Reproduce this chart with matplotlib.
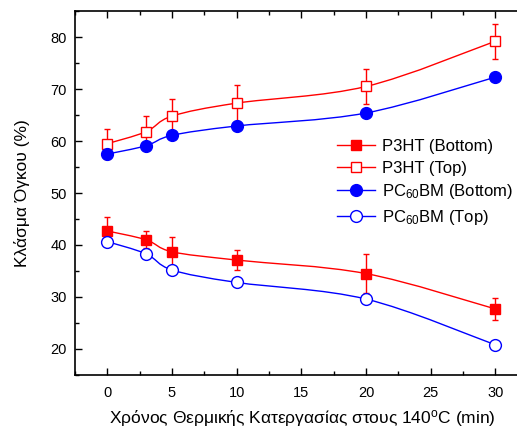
import numpy as np
import matplotlib.pyplot as plt
from matplotlib.path import Path
from matplotlib.patches import PathPatch

plt.rcParams['font.family'] = ['Liberation Sans', 'DejaVu Sans']
plt.rcParams['mathtext.fontset'] = 'custom'
plt.rcParams['mathtext.rm'] = 'Liberation Sans'
plt.rcParams['mathtext.it'] = 'Liberation Sans:italic'

# annealing time (min)
t = [0, 3, 5, 10, 20, 30]

p3ht_bottom = [42.7, 41.0, 38.7, 37.1, 34.5, 27.7]
p3ht_bottom_err = [2.6, 1.6, 2.9, 2.0, 3.8, 2.05]
p3ht_top = [59.5, 61.8, 64.8, 67.3, 70.5, 79.2]
p3ht_top_err = [2.9, 3.0, 3.2, 3.5, 3.4, 3.4]
pcbm_bottom = [57.5, 59.1, 61.1, 62.9, 65.4, 72.3]
pcbm_top = [40.65, 38.3, 35.2, 32.8, 29.6, 20.8]

RED = '#ff0000'
BLUE = '#0000ff'


def smooth_path(x, y):
    # Catmull-Rom spline through the points, as cubic Bezier segments
    x = np.asarray(x, float)
    y = np.asarray(y, float)
    pts = np.column_stack([x, y])
    verts = [pts[0]]
    codes = [Path.MOVETO]
    n = len(pts)
    for i in range(n - 1):
        p0 = pts[i - 1] if i > 0 else pts[i]
        p1 = pts[i]
        p2 = pts[i + 1]
        p3 = pts[i + 2] if i + 2 < n else pts[i + 1]
        c1 = p1 + (p2 - p0) / 6.0
        c2 = p2 - (p3 - p1) / 6.0
        verts += [c1, c2, p2]
        codes += [Path.CURVE4] * 3
    return Path(verts, codes)


fig = plt.figure(figsize=(5.17, 4.28), dpi=100)
ax = fig.add_axes([0.145, 0.124, 0.888, 0.85])

series = [
    (p3ht_bottom, RED, 's', RED, 'P3HT (Bottom)'),
    (p3ht_top, RED, 's', 'white', 'P3HT (Top)'),
    (pcbm_bottom, BLUE, 'o', BLUE, 'PC$_{60}$BM (Bottom)'),
    (pcbm_top, BLUE, 'o', 'white', 'PC$_{60}$BM (Top)'),
]

ax.errorbar(t, p3ht_bottom, yerr=p3ht_bottom_err, fmt='none', ecolor=RED,
            elinewidth=1, capsize=2.5, capthick=1, zorder=2)
ax.errorbar(t, p3ht_top, yerr=p3ht_top_err, fmt='none', ecolor=RED,
            elinewidth=1, capsize=2.5, capthick=1, zorder=2)

handles = []
for vals, col, mk, face, label in series:
    ax.add_patch(PathPatch(smooth_path(t, vals), facecolor='none',
                           edgecolor=col, lw=1, zorder=1))
    ms = 7.5 if mk == 's' else 8.5
    ax.plot(t, vals, ls='none', marker=mk, ms=ms, mfc=face, mec=col,
            mew=1, zorder=3)
    h, = ax.plot([], [], color=col, lw=1, marker=mk, ms=ms, mfc=face,
                 mec=col, mew=1, label=label)
    handles.append(h)

ax.set_xlim(-2.5, 33)
ax.set_ylim(15, 85)
ax.set_xticks([0, 5, 10, 15, 20, 25, 30])
ax.set_xticks(np.arange(-2.5, 33, 2.5), minor=True)
ax.set_yticks([20, 30, 40, 50, 60, 70, 80])
ax.set_yticks(np.arange(15, 86, 5), minor=True)
ax.tick_params(which='both', direction='in', top=True, right=False,
               labelsize=10.5, width=1)
ax.tick_params(axis='x', pad=8)
ax.tick_params(axis='y', pad=6)
ax.tick_params(which='major', length=5)
ax.tick_params(which='minor', length=3)
for s in ax.spines.values():
    s.set_linewidth(1.2)
ax.spines['right'].set_visible(False)

ax.set_xlabel('Χρόνος Θερμικής Κατεργασίας στους 140$^\\mathrm{o}$C (min)',
              fontsize=12.5, va='bottom')
ax.xaxis.set_label_coords(0.495, -0.150)
ax.set_ylabel('Κλάσμα Όγκου (%)', fontsize=12.5)
ax.yaxis.set_label_coords(-0.098, 0.5)

ax.legend(handles=handles, loc='upper left',
          bbox_to_anchor=(0.635, 0.695), bbox_transform=fig.transFigure,
          frameon=False, fontsize=12, handlelength=2.3, handletextpad=0.4,
          labelspacing=0.4, borderpad=0)

fig.savefig('out.png', dpi=100)
